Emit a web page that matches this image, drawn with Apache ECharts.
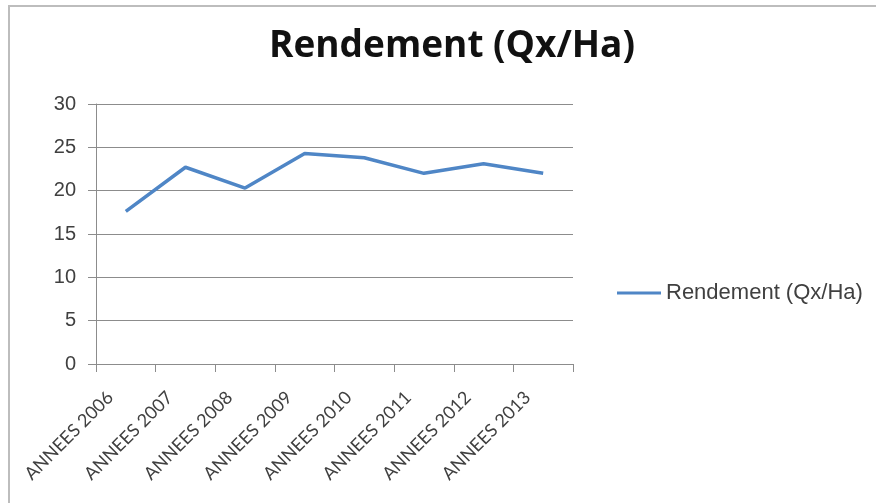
<!DOCTYPE html>
<html>
<head>
<meta charset="utf-8">
<script src="https://cdn.jsdelivr.net/npm/echarts@6/dist/echarts.min.js"></script>
<style>
  html, body { margin: 0; padding: 0; background: #fff; }
  #chart { width: 876px; height: 503px; }
</style>
</head>
<body>
<div id="chart"></div>
<script>
// data
var categories = ["ANNEES 2006", "ANNEES 2007", "ANNEES 2008", "ANNEES 2009",
                  "ANNEES 2010", "ANNEES 2011", "ANNEES 2012", "ANNEES 2013"];
var rendement = [17.6, 22.7, 20.3, 24.3, 23.8, 22.0, 23.1, 22.0];
var seriesName = "Rendement (Qx/Ha)";

var chart = echarts.init(document.getElementById("chart"));
var gray = "#8c8c8c";
var textColor = "#404040";

chart.setOption({
  animation: false,
  graphic: [{
    type: "rect",
    shape: { x: 9, y: 6, width: 900, height: 600 },
    style: { fill: "none", stroke: "#bdbdbd", lineWidth: 2 },
    silent: true
  }],
  title: {
    text: "Rendement (Qx/Ha)",
    left: 264,
    top: 23,
    textStyle: {
      fontFamily: "Open Sans",
      fontWeight: "bold",
      fontSize: 37,
      color: "#111"
    }
  },
  legend: {
    left: 612,
    top: 277,
    icon: "rect",
    itemWidth: 44,
    itemHeight: 3,
    itemGap: 5,
    textStyle: {
      fontFamily: "Liberation Sans",
      fontSize: 22,
      color: textColor
    },
    data: [seriesName]
  },
  grid: {
    left: 96,
    right: 303,
    top: 104,
    bottom: 139
  },
  xAxis: {
    type: "category",
    data: categories,
    boundaryGap: true,
    axisLine: { lineStyle: { color: gray, width: 1 } },
    axisTick: { show: true, length: 8, lineStyle: { color: gray } },
    axisLabel: {
      rotate: 45,
      margin: 15,
      padding: [0, 22, 0, 0],
      interval: 0,
      fontFamily: "Lato",
      fontSize: 18,
      color: textColor
    }
  },
  yAxis: {
    type: "value",
    min: 0,
    max: 30,
    interval: 5,
    axisLine: { show: true, lineStyle: { color: gray, width: 1 } },
    axisTick: { show: true, length: 8, lineStyle: { color: gray } },
    axisLabel: {
      margin: 20,
      fontFamily: "Liberation Sans",
      fontSize: 20,
      color: textColor
    },
    splitLine: { lineStyle: { color: gray, width: 1 } }
  },
  series: [{
    name: seriesName,
    type: "line",
    data: rendement,
    symbol: "none",
    lineStyle: { color: "#4f86c6", width: 3.5 },
    itemStyle: { color: "#4f86c6" }
  }]
});
</script>
</body>
</html>
